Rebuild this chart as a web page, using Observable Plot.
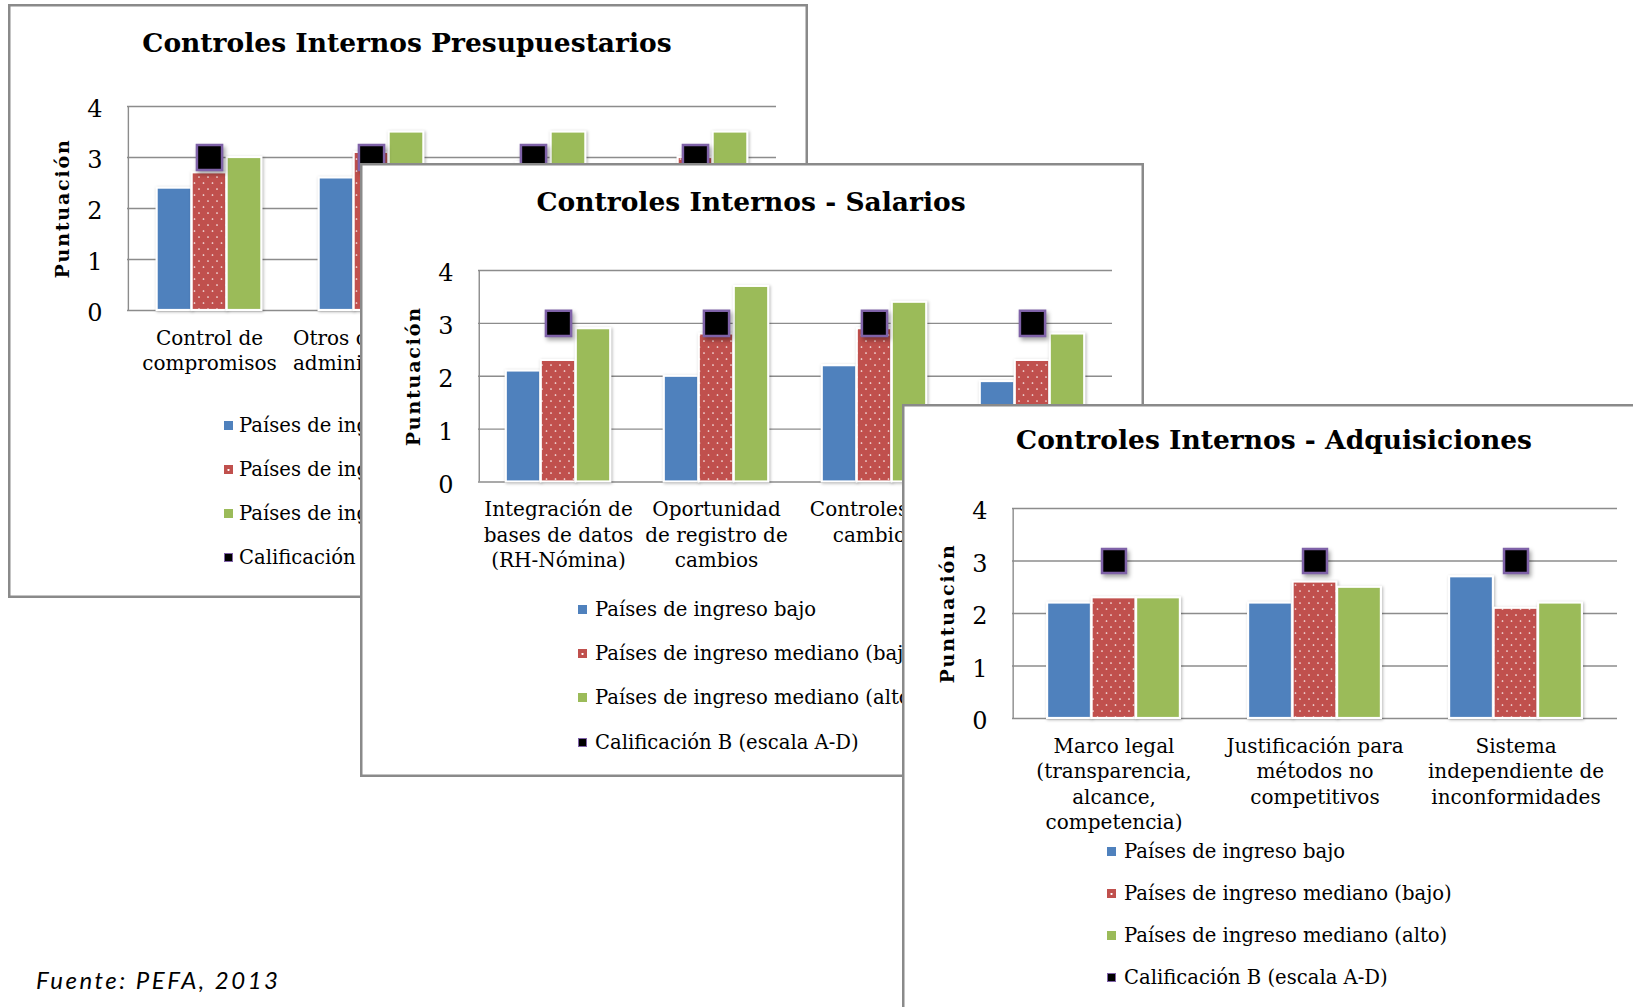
<!DOCTYPE html>
<html>
<head>
<meta charset="utf-8">
<script src="https://cdn.jsdelivr.net/npm/d3@7"></script>
<script src="https://cdn.jsdelivr.net/npm/@observablehq/plot@0.6"></script>
<style>
  html, body { margin: 0; padding: 0; background: #fff; }
  body { width: 1633px; height: 1007px; overflow: hidden; position: relative; font-family: "DejaVu Serif", serif; color: #000; }
  .panel { position: absolute; background: #fff; box-shadow: inset 0 0 0 2.5px #8a8a8a; overflow: hidden; }
  .title { position: absolute; transform: translate(-50%, -50%); font-weight: bold; font-size: 26.5px; white-space: nowrap; line-height: 1; }
  .legrow { position: absolute; height: 28px; display: flex; align-items: center; font-size: 19.6px; white-space: nowrap; }
  .sw { width: 9px; height: 9px; box-sizing: border-box; flex: none; }
  .chart { position: absolute; left: 0; overflow: visible; }
  .chart g[aria-label="text"] text { letter-spacing: 1.8px; }
  .chart g[aria-label="bar"] { filter: drop-shadow(1px 1px 1.5px rgba(0,0,0,0.28)); }
  .chart g[aria-label="dot"] { filter: drop-shadow(2px 3px 2px rgba(0,0,0,0.35)); }
  .source { position: absolute; left: 36px; top: 965px; font-family: Lato, "DejaVu Sans", sans-serif; font-style: italic; font-size: 24px; letter-spacing: 2.5px; }
</style>
</head>
<body>
<svg width="0" height="0" style="position:absolute">
  <defs>
    <pattern id="dots" patternUnits="userSpaceOnUse" width="9" height="12">
      <rect width="9" height="12" fill="#c0504d"></rect>
      <circle cx="2" cy="3" r="0.85" fill="#fff" fill-opacity="0.9"></circle>
      <circle cx="6.5" cy="9" r="0.85" fill="#fff" fill-opacity="0.9"></circle>
    </pattern>
  </defs>
</svg>
<script>
// ---------- data ----------
const seriesNames = ["Países de ingreso bajo", "Países de ingreso mediano (bajo)", "Países de ingreso mediano (alto)"];
const markerName = "Calificación B (escala A-D)";
const yTicks = [0, 1, 2, 3, 4];
const yLabel = "Puntuación";
const sourceNote = "Fuente: PEFA, 2013";

const presTitle = "Controles Internos Presupuestarios";
const presCategories = ["Control de\ncompromisos", "Otros controles\nadministrativos", "Cumplimiento de\nnormas", "Registro de\ntransacciones"];
const presBajo = [2.4, 2.6, 2.4, 2.5];
const presMedBajo = [2.7, 3.1, 2.9, 3.0];
const presMedAlto = [3.0, 3.5, 3.5, 3.5];
const presCalif = [3, 3, 3, 3];

const salTitle = "Controles Internos - Salarios";
const salCategories = ["Integración de\nbases de datos\n(RH-Nómina)", "Oportunidad\nde registro de\ncambios", "Controles de\ncambios", "Auditorías de\nnómina"];
const salBajo = [2.1, 2.0, 2.2, 1.9];
const salMedBajo = [2.3, 2.8, 2.9, 2.3];
const salMedAlto = [2.9, 3.7, 3.4, 2.8];
const salCalif = [3, 3, 3, 3];

const adqTitle = "Controles Internos - Adquisiciones";
const adqCategories = ["Marco legal\n(transparencia,\nalcance,\ncompetencia)", "Justificación para\nmétodos no\ncompetitivos", "Sistema\nindependiente de\ninconformidades"];
const adqBajo = [2.2, 2.2, 2.7];
const adqMedBajo = [2.3, 2.6, 2.1];
const adqMedAlto = [2.3, 2.5, 2.2];
const adqCalif = [3, 3, 3];

// ---------- styles ----------
const seriesFills = ["#4f81bd", "url(#dots)", "#9bbb59"];
const gridColor = "#8c8c8c";
const markerStroke = "#7f62a8";

function makePanel(cfg) {
  const panel = document.createElement("div");
  panel.className = "panel";
  Object.assign(panel.style, {left: cfg.left + "px", top: cfg.top + "px", width: cfg.width + "px", height: cfg.height + "px"});
  document.body.appendChild(panel);

  const t = document.createElement("div");
  t.className = "title";
  t.textContent = cfg.title;
  t.style.left = (cfg.titleX - cfg.left) + "px";
  t.style.top = (cfg.titleY - cfg.top) + "px";
  panel.appendChild(t);

  const rows = cfg.cats.flatMap((c, i) => [
    {cat: c, s: 0, v: cfg.values[0][i]},
    {cat: c, s: 1, v: cfg.values[1][i]},
    {cat: c, s: 2, v: cfg.values[2][i]}
  ]);
  const markers = cfg.cats.map((c, i) => ({cat: c, v: cfg.calif[i]}));
  const bw = (cfg.plotRight - cfg.plotLeft) / cfg.cats.length;
  const step = cfg.barStep;
  const barMarks = [0, 1, 2].map(j => {
    const off = (j - 1) * step;
    return Plot.barY(rows.filter(d => d.s === j), {
      x: "cat", y: "v", fill: seriesFills[j], stroke: "#fff", strokeWidth: 2.2,
      insetLeft: bw / 2 + off - step / 2, insetRight: bw / 2 - off - step / 2
    });
  });

  const mTop = 40, mBottom = 140;
  const svgTop = cfg.plotTop - mTop;
  const chart = Plot.plot({
    width: cfg.width,
    height: (cfg.plotBottom - cfg.plotTop) + mTop + mBottom,
    marginLeft: cfg.plotLeft - cfg.left,
    marginRight: cfg.left + cfg.width - cfg.plotRight,
    marginTop: mTop,
    marginBottom: mBottom,
    x: {domain: cfg.cats, padding: 0, label: null},
    y: {domain: [0, 4], label: null},
    style: {fontFamily: "DejaVu Serif", fontSize: "20px", color: "#000", background: "transparent", overflow: "visible"},
    marks: [
      Plot.ruleY(yTicks, {stroke: gridColor, strokeWidth: 1.4}),
      Plot.ruleX([cfg.cats[0]], {x: d => d, y1: 0, y2: 4, dx: -bw / 2, stroke: gridColor, strokeWidth: 1.4}),
      Plot.axisY({ticks: yTicks, tickSize: 0, tickPadding: 25, fontSize: 24, dy: 3, label: null, tickFormat: d => String(d)}),
      Plot.axisX({tickSize: 0, tickPadding: 16, lineHeight: 1.28, label: null}),
      Plot.text([yLabel], {frameAnchor: "left", textAnchor: "middle", rotate: -90, dx: -65, fontWeight: "bold", fontSize: 19, fill: "#000"}),
      ...barMarks,
      Plot.dot(markers, {x: "cat", y: "v", symbol: "square", r: cfg.markerR, fill: "#000", stroke: markerStroke, strokeWidth: 2.5})
    ]
  });
  chart.classList.add("chart");
  chart.style.top = (svgTop - cfg.top) + "px";
  panel.appendChild(chart);

  const legendItems = [...seriesNames, markerName];
  const swStyles = [
    "background:#4f81bd",
    "background: radial-gradient(circle at 50% 55%, #fff 0 0.9px, #c0504d 1.3px)",
    "background:#9bbb59",
    "background:#000;border:1px solid " + markerStroke
  ];
  legendItems.forEach((name, k) => {
    const row = document.createElement("div");
    row.className = "legrow";
    row.style.left = (cfg.legendX - cfg.left) + "px";
    row.style.top = (cfg.legendRows[k] - cfg.top - 14) + "px";
    const sw = document.createElement("span");
    sw.className = "sw";
    sw.style.cssText = swStyles[k];
    sw.style.marginRight = (cfg.legendTextX - cfg.legendX - 9) + "px";
    const tx = document.createElement("span");
    tx.textContent = name;
    row.appendChild(sw);
    row.appendChild(tx);
    panel.appendChild(row);
  });
}

makePanel({
  left: 8, top: 4, width: 800, height: 594,
  plotLeft: 127, plotRight: 776, plotTop: 106, plotBottom: 310,
  titleX: 407, titleY: 43, title: presTitle,
  cats: presCategories, values: [presBajo, presMedBajo, presMedAlto], calif: presCalif,
  barStep: 35, markerR: 14.2,
  legendX: 224, legendTextX: 239, legendRows: [425, 469, 513, 557]
});
makePanel({
  left: 360, top: 163, width: 784, height: 614,
  plotLeft: 478, plotRight: 1112, plotTop: 270, plotBottom: 481.5,
  titleX: 751, titleY: 202, title: salTitle,
  cats: salCategories, values: [salBajo, salMedBajo, salMedAlto], calif: salCalif,
  barStep: 35, markerR: 14.2,
  legendX: 578, legendTextX: 595, legendRows: [609, 653, 697, 742]
});
makePanel({
  left: 902, top: 404, width: 745, height: 640,
  plotLeft: 1012, plotRight: 1617, plotTop: 508, plotBottom: 718,
  titleX: 1274, titleY: 440, title: adqTitle,
  cats: adqCategories, values: [adqBajo, adqMedBajo, adqMedAlto], calif: adqCalif,
  barStep: 44.5, markerR: 13.5,
  legendX: 1107, legendTextX: 1124, legendRows: [851, 893, 935, 977]
});

const src = document.createElement("div");
src.className = "source";
src.textContent = sourceNote;
document.body.appendChild(src);
</script>
</body>
</html>
